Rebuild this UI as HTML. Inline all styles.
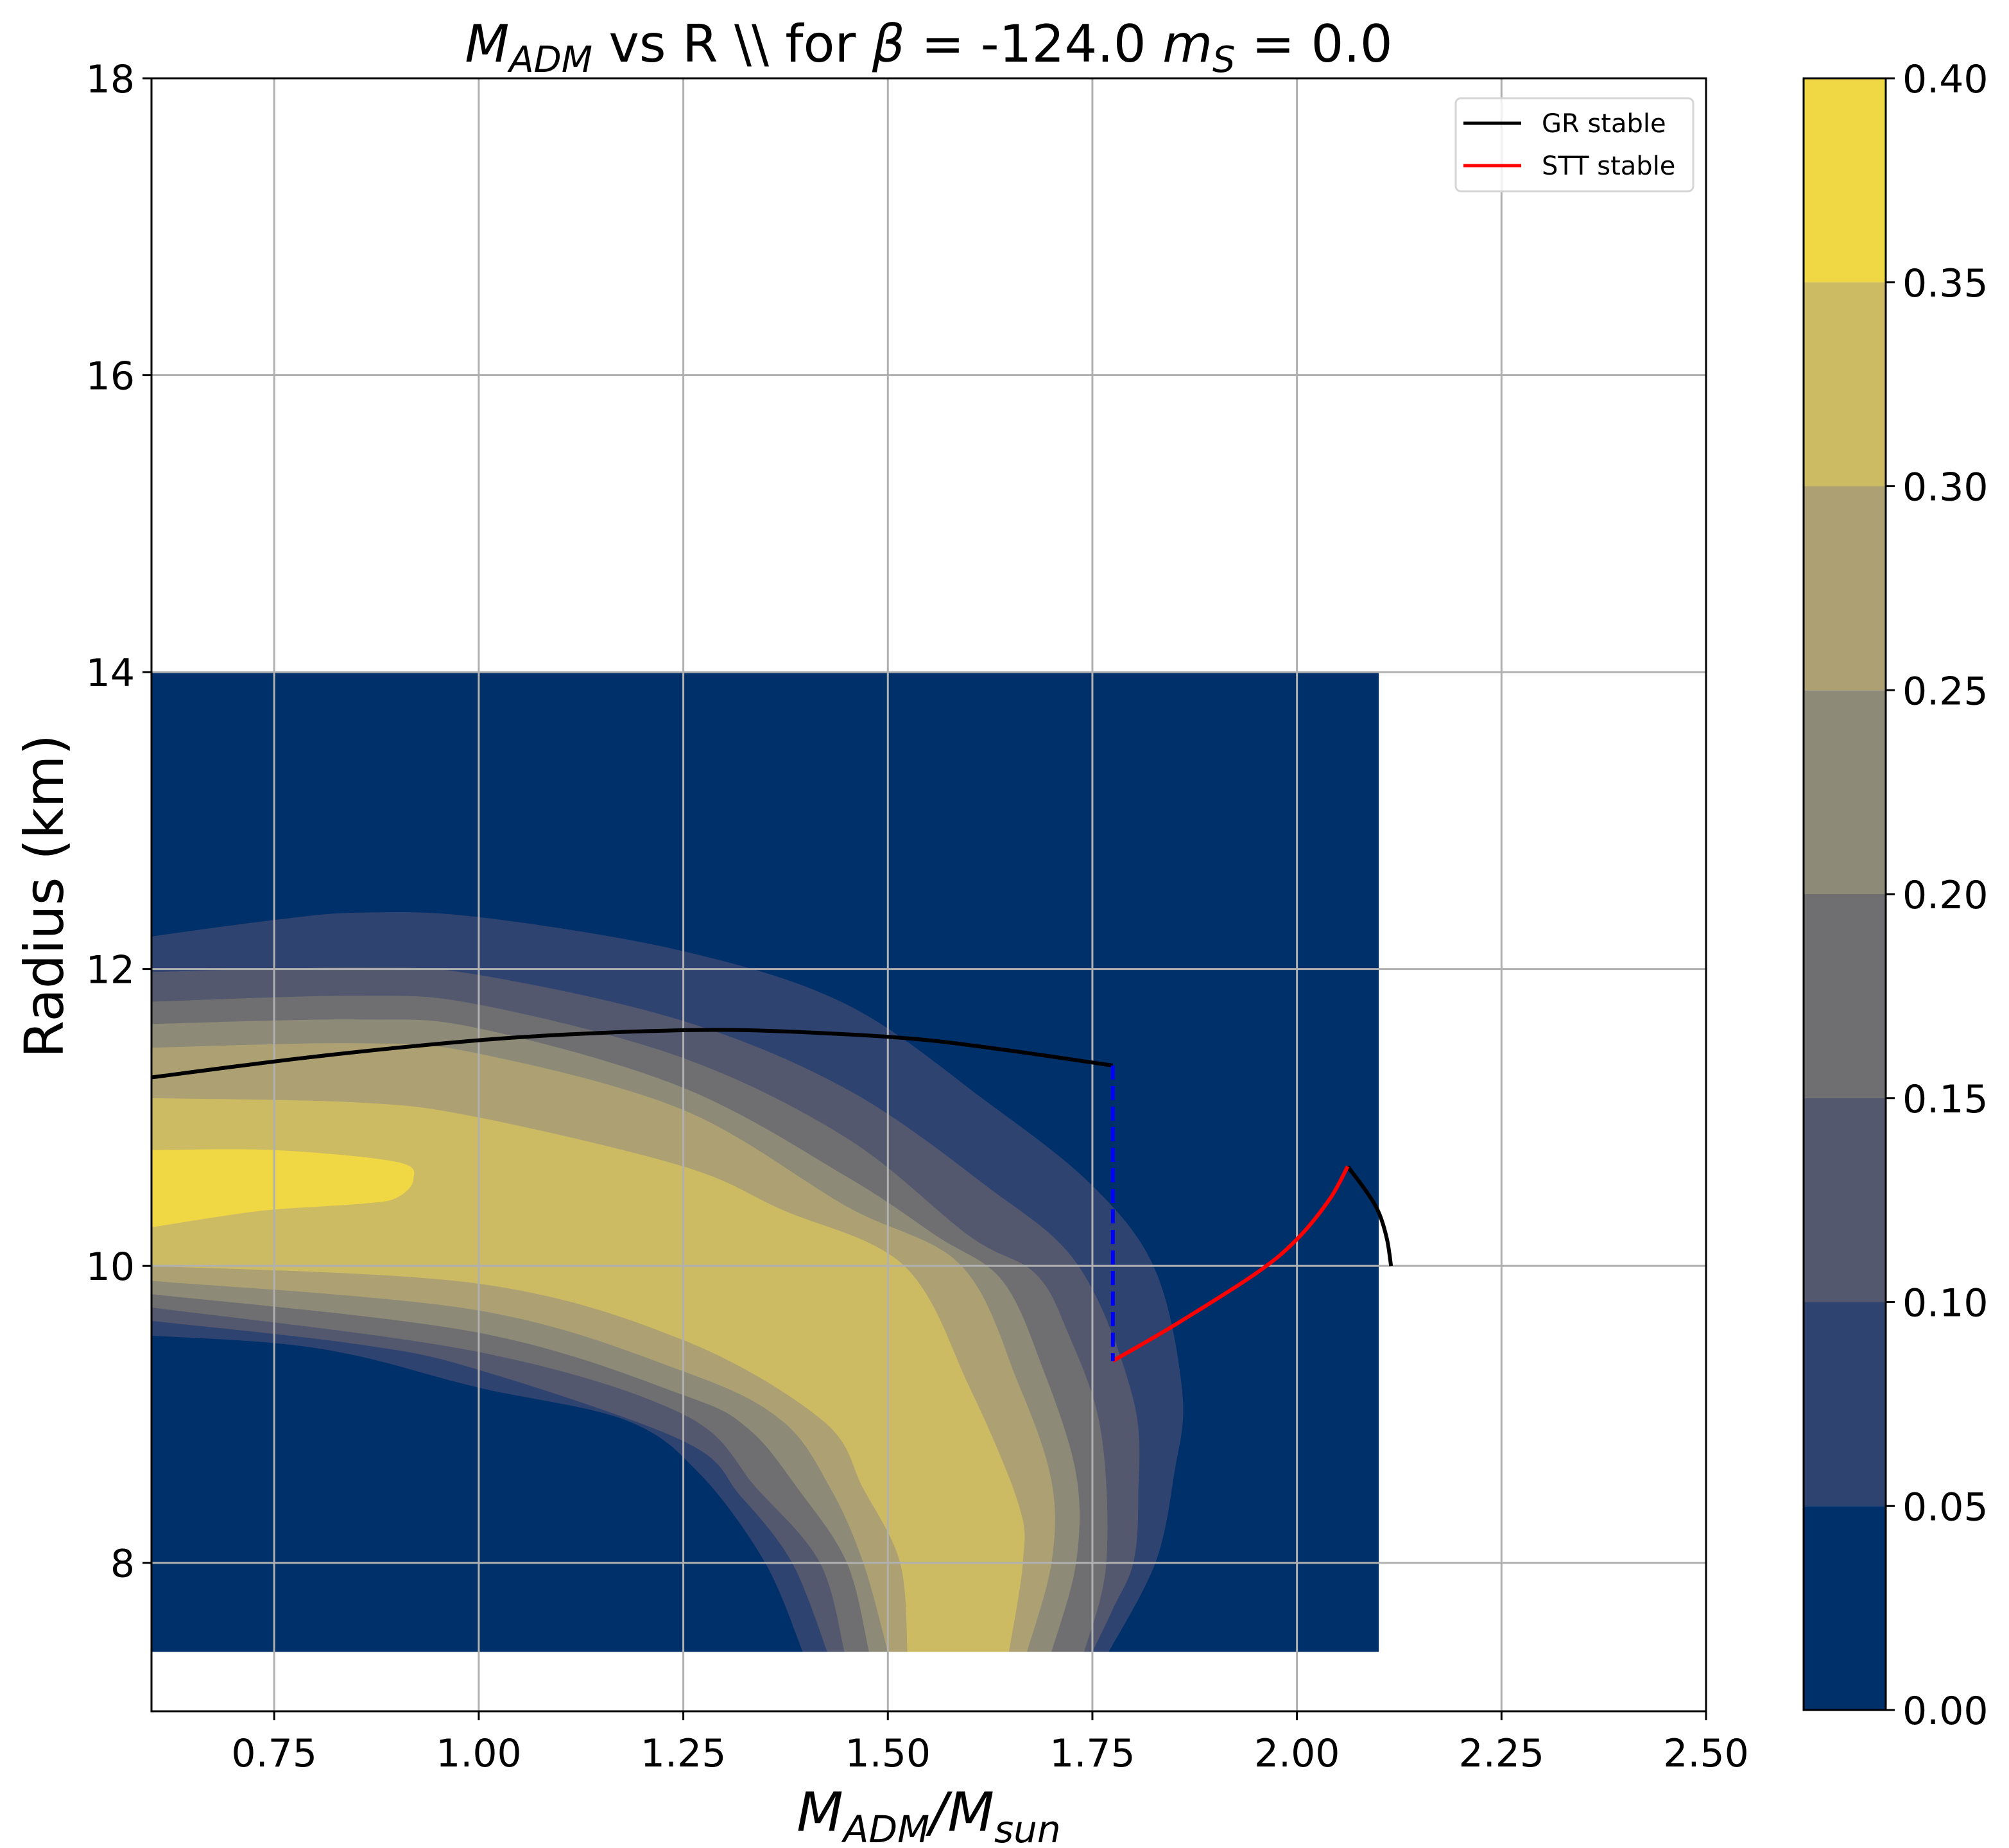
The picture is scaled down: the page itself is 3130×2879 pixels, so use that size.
<!DOCTYPE html>
<html><head><meta charset="utf-8"><style>
html,body{margin:0;padding:0;background:#fff;}
svg{display:block;font-family:"DejaVu Sans","Liberation Sans",sans-serif;}
</style></head><body>
<svg id="chart" width="3130" height="2879" viewBox="0 0 3130 2879" xmlns="http://www.w3.org/2000/svg">
<rect width="3130" height="2879" fill="#fff"/>
<defs><clipPath id="dclip"><rect id="dclipr" x="0" y="0" width="0" height="0"/></clipPath></defs>
<g id="plot"></g>
<g id="cbar"></g>
<text x="1447" y="96" font-size="80" text-anchor="middle"><tspan font-style="italic">M</tspan><tspan font-style="italic" font-size="56" dy="16">ADM</tspan><tspan dy="-16"> vs R \\ for </tspan><tspan font-style="italic">β</tspan><tspan> = -124.0 </tspan><tspan font-style="italic">m</tspan><tspan font-style="italic" font-size="56" dy="16">S</tspan><tspan dy="-16"> = 0.0</tspan></text>
<text x="1447" y="2852" font-size="84" text-anchor="middle"><tspan font-style="italic">M</tspan><tspan font-style="italic" font-size="58" dy="18">ADM</tspan><tspan font-style="italic" dy="-18">/M</tspan><tspan font-style="italic" font-size="58" dy="18">sun</tspan></text>
<text x="0" y="0" font-size="84" text-anchor="middle" transform="translate(98,1396) rotate(-90)">Radius (km)</text>
</svg>
<script>
const xTicks=[0.75,1.00,1.25,1.50,1.75,2.00,2.25,2.50];
const xTickLabels=["0.75","1.00","1.25","1.50","1.75","2.00","2.25","2.50"];
const yTicks=[8,10,12,14,16,18];
const yTickLabels=["8","10","12","14","16","18"];
const levels=[0,0.05,0.10,0.15,0.20,0.25,0.30,0.35,0.40];
const levelLabels=["0.00","0.05","0.10","0.15","0.20","0.25","0.30","0.35","0.40"];
const levelColors=["#00306a","#2f4370","#53586e","#6f6f72","#8d8a77","#ada173","#cdbb63","#f0d845"];
const domainX=[0.6,2.1];
const domainY=[7.4,14.0];
const lev05=[[0.6,12.22],[0.75,12.33],[0.855,12.38],[1.0,12.35],[1.25,12.12],[1.45,11.76],[1.62,11.11],[1.75,10.54],[1.827,9.97],[1.86,9.14],[1.85,8.6],[1.827,8.0],[1.77,7.4],[1.396,7.4],[1.35,8.0],[1.27,8.6],[1.18,8.96],[1.0,9.18],[0.855,9.39],[0.75,9.48],[0.6,9.53]];
const lev10=[[0.6,11.98],[0.855,12.01],[1.0,11.96],[1.25,11.65],[1.45,11.19],[1.62,10.54],[1.733,10.0],[1.8,9.1],[1.806,8.43],[1.8,8.0],[1.776,7.7],[1.75,7.4],[1.426,7.4],[1.383,8.0],[1.32,8.45],[1.25,8.82],[1.0,9.3],[0.855,9.47],[0.6,9.63]];
const lev15=[[0.6,11.78],[0.855,11.82],[1.0,11.76],[1.25,11.4],[1.45,10.86],[1.6,10.2],[1.68,9.95],[1.72,9.55],[1.76,8.9],[1.767,8.0],[1.74,7.4],[1.447,7.4],[1.417,8.0],[1.34,8.5],[1.25,9.0],[1.0,9.42],[0.6,9.72]];
const lev20=[[0.6,11.63],[0.855,11.66],[1.0,11.6],[1.25,11.2],[1.45,10.6],[1.56,10.2],[1.64,9.9],[1.69,9.3],[1.73,8.6],[1.73,8.0],[1.7,7.4],[1.477,7.4],[1.45,8.0],[1.39,8.5],[1.33,8.9],[1.25,9.13],[1.0,9.55],[0.6,9.81]];
const lev25=[[0.6,11.47],[0.855,11.5],[1.0,11.43],[1.25,11.05],[1.45,10.4],[1.59,10.0],[1.66,9.2],[1.7,8.55],[1.7,8.0],[1.67,7.4],[1.5,7.4],[1.47,8.0],[1.43,8.5],[1.37,8.96],[1.25,9.29],[1.0,9.7],[0.6,9.9]];
const lev30=[[0.6,11.13],[0.855,11.1],[1.0,11.0],[1.25,10.67],[1.37,10.38],[1.52,10.0],[1.6,9.18],[1.66,8.39],[1.665,8.0],[1.648,7.4],[1.524,7.4],[1.515,8.0],[1.47,8.5],[1.42,8.96],[1.25,9.5],[1.0,9.88],[0.6,10.0]];
const lev35=[[0.6,10.78],[0.75,10.78],[0.9,10.7],[0.92,10.58],[0.9,10.46],[0.86,10.42],[0.75,10.38],[0.68,10.33],[0.6,10.26]];
const grMass=[0.6,0.8,1.0,1.15,1.3,1.45,1.55,1.65,1.775];
const grRadius=[11.27,11.41,11.52,11.57,11.59,11.56,11.52,11.45,11.35];
const gr2Mass=[2.062,2.085,2.1,2.11,2.115];
const gr2Radius=[10.67,10.5,10.36,10.18,10.0];
const sttMass=[1.775,1.85,1.95,2.0,2.04,2.062];
const sttRadius=[9.36,9.6,9.95,10.18,10.45,10.67];
const jumpMass=[1.775,1.775];
const jumpRadius=[11.35,9.36];

const NS='http://www.w3.org/2000/svg';
const L=236,R=2658,T=122,B=2666;
const X0=0.6,X1=2.5,Y0=7,Y1=18;
function sx(v){return L+(v-X0)/(X1-X0)*(R-L);}
function sy(v){return B-(v-Y0)/(Y1-Y0)*(B-T);}
function mk(tag,attrs,parent){const e=document.createElementNS(NS,tag);for(const k in attrs)e.setAttribute(k,attrs[k]);parent.appendChild(e);return e;}
function segs(pts,move){
  let d=(move?'M':'L')+pts[0][0].toFixed(1)+','+pts[0][1].toFixed(1);
  for(let i=0;i<pts.length-1;i++){
    const p0=pts[Math.max(0,i-1)],p1=pts[i],p2=pts[i+1],p3=pts[Math.min(pts.length-1,i+2)];
    const c1=[p1[0]+(p2[0]-p0[0])/6,p1[1]+(p2[1]-p0[1])/6];
    const c2=[p2[0]-(p3[0]-p1[0])/6,p2[1]-(p3[1]-p1[1])/6];
    d+='C'+c1[0].toFixed(1)+','+c1[1].toFixed(1)+' '+c2[0].toFixed(1)+','+c2[1].toFixed(1)+' '+p2[0].toFixed(1)+','+p2[1].toFixed(1);
  }
  return d;
}
const plot=document.getElementById('plot');
const cbar=document.getElementById('cbar');
const cr=document.getElementById('dclipr');
cr.setAttribute('x',sx(domainX[0]));cr.setAttribute('y',sy(domainY[1]));
cr.setAttribute('width',sx(domainX[1])-sx(domainX[0]));cr.setAttribute('height',sy(domainY[0])-sy(domainY[1]));

let base=mk('rect',{x:sx(domainX[0]),y:sy(domainY[1]),width:sx(domainX[1])-sx(domainX[0]),height:sy(domainY[0])-sy(domainY[1]),fill:levelColors[0]},plot);


const cg=mk('g',{'clip-path':'url(#dclip)'},plot);
const polys=[lev05,lev10,lev15,lev20,lev25,lev30,lev35];
polys.forEach((p,i)=>{
  const pts=p.map(q=>[sx(q[0]),sy(q[1])]);
  let k=p.findIndex(q=>q[1]<=domainY[0]+1e-9);
  let d;
  if(k>=0){
    const up=pts.slice(0,k+1), lo=pts.slice(k+1);
    d=segs(up,true)+segs(lo,false);
  } else d=segs(pts,true);
  const first=pts[0],last=pts[pts.length-1];
  d+='L'+(last[0]-20).toFixed(1)+','+last[1].toFixed(1)+'L'+(first[0]-20).toFixed(1)+','+first[1].toFixed(1)+'Z';
  const e=mk('path',{d:d,fill:levelColors[i+1]},cg);
  
  
});
xTicks.forEach((v,i)=>{
  const g=mk('line',{x1:sx(v),x2:sx(v),y1:T,y2:B,stroke:'#b0b0b0','stroke-width':3},plot);
  
  
  const t=mk('line',{x1:sx(v),x2:sx(v),y1:B,y2:B+14,stroke:'#000','stroke-width':3},plot);
  
  
  const tx=mk('text',{x:sx(v),y:2752,'font-size':60,'text-anchor':'middle'},plot);
  tx.textContent=xTickLabels[i];
  
  
});
yTicks.forEach((v,i)=>{
  const g=mk('line',{x1:L,x2:R,y1:sy(v),y2:sy(v),stroke:'#b0b0b0','stroke-width':3},plot);
  
  
  const t=mk('line',{x1:L-14,x2:L,y1:sy(v),y2:sy(v),stroke:'#000','stroke-width':3},plot);
  
  
  const tx=mk('text',{x:L-26,y:sy(v)+22,'font-size':60,'text-anchor':'end'},plot);
  tx.textContent=yTickLabels[i];
  
  
});
function line(xs,ys,color,name,dash){
  const pts=xs.map((v,i)=>[sx(v),sy(ys[i])]);
  const a={d:segs(pts,true),fill:'none',stroke:color,'stroke-width':6,'stroke-linejoin':'round'};
  if(dash)a['stroke-dasharray']=dash;
  const e=mk('path',a,plot);
  
  
}
line(grMass,grRadius,'#000','gr-stable-line');
line(gr2Mass,gr2Radius,'#000','gr-stable-line-2');
line(sttMass,sttRadius,'#ff0000','stt-stable-line');
line(jumpMass,jumpRadius,'#0000ff','transition-dashed-line','22 10');
let fr=mk('rect',{x:L,y:T,width:R-L,height:B-T,fill:'none',stroke:'#000','stroke-width':3},plot);


const lg=mk('g',{},plot);


mk('rect',{x:2268,y:153,width:370,height:145,rx:8,fill:'#fff','fill-opacity':0.8,stroke:'#d5d5d5','stroke-width':3},lg);
const legItems=[['GR stable','#000',206],['STT stable','#ff0000',272]];
legItems.forEach(it=>{
  const le=mk('g',{},lg);
  
  
  mk('line',{x1:2280,x2:2370,y1:it[2]-14,y2:it[2]-14,stroke:it[1],'stroke-width':5},le);
  const t=mk('text',{x:2402,y:it[2],'font-size':40},le);
  t.textContent=it[0];
});
const CL=2810,CR=2938,CT=122,CB=2664;
function cy(v){return CB-(v-levels[0])/(levels[levels.length-1]-levels[0])*(CB-CT);}
for(let i=0;i<levelColors.length;i++){
  const r=mk('rect',{x:CL,y:cy(levels[i+1]),width:CR-CL,height:cy(levels[i])-cy(levels[i+1]),fill:levelColors[i]},cbar);
  
  
}
mk('rect',{x:CL,y:CT,width:CR-CL,height:CB-CT,fill:'none',stroke:'#000','stroke-width':3},cbar);
levels.forEach((v,i)=>{
  mk('line',{x1:CR,x2:CR+14,y1:cy(v),y2:cy(v),stroke:'#000','stroke-width':3},cbar);
  const t=mk('text',{x:CR+26,y:cy(v)+22,'font-size':60},cbar);
  t.textContent=levelLabels[i];
  
  
});
</script>
</body></html>
